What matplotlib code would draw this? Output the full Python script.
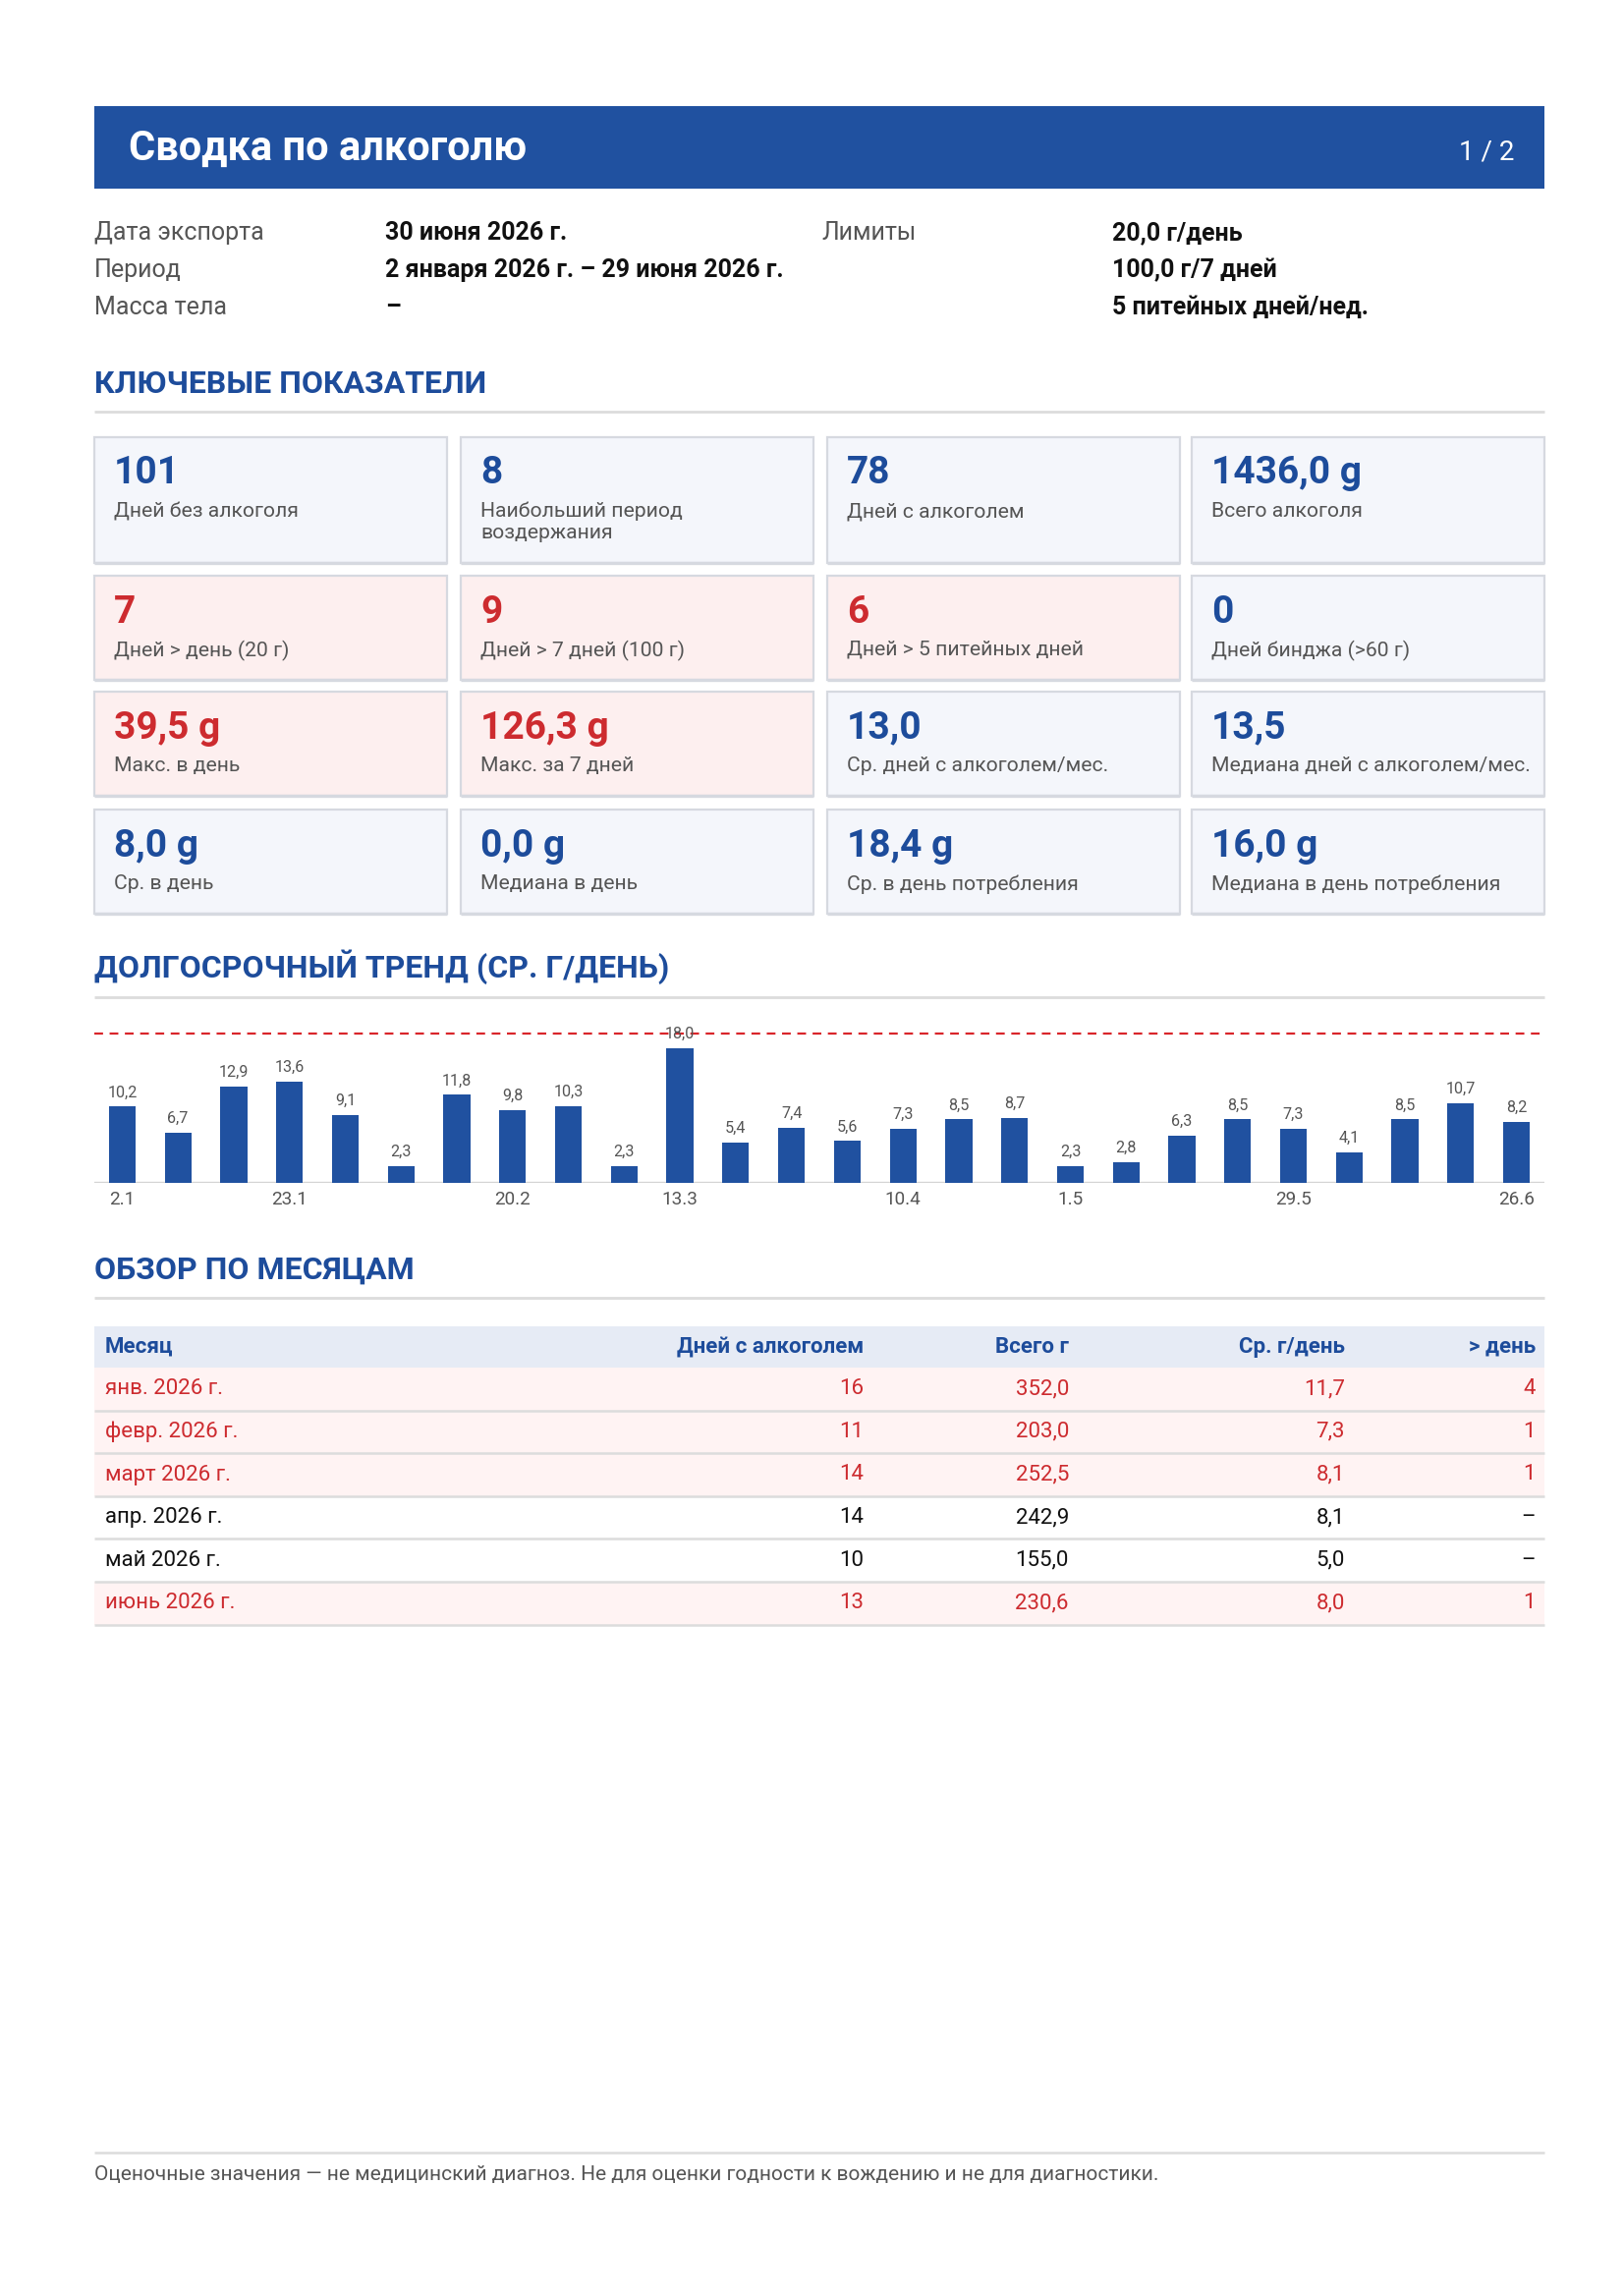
import matplotlib
matplotlib.use("Agg")
import matplotlib.pyplot as plt
from matplotlib.patches import Rectangle

plt.rcParams['font.family'] = ['Roboto', 'DejaVu Sans']

# ---------------- data ----------------
report_title = "Сводка по алкоголю"
page_label = "1 / 2"

info_labels = ["Дата экспорта", "Период", "Масса тела"]
info_values = ["30 июня 2026 г.", "2 января 2026 г. – 29 июня 2026 г.", "–"]
limits_label = "Лимиты"
limits_values = ["20,0 г/день", "100,0 г/7 дней", "5 питейных дней/нед."]

section_titles = ["КЛЮЧЕВЫЕ ПОКАЗАТЕЛИ", "ДОЛГОСРОЧНЫЙ ТРЕНД (СР. Г/ДЕНЬ)", "ОБЗОР ПО МЕСЯЦАМ"]

kpi_values = [
    ["101", "8", "78", "1436,0 g"],
    ["7", "9", "6", "0"],
    ["39,5 g", "126,3 g", "13,0", "13,5"],
    ["8,0 g", "0,0 g", "18,4 g", "16,0 g"],
]
kpi_labels = [
    ["Дней без алкоголя", "Наибольший период\nвоздержания", "Дней с алкоголем", "Всего алкоголя"],
    ["Дней > день (20 г)", "Дней > 7 дней (100 г)", "Дней > 5 питейных дней", "Дней бинджа (>60 г)"],
    ["Макс. в день", "Макс. за 7 дней", "Ср. дней с алкоголем/мес.", "Медиана дней с алкоголем/мес."],
    ["Ср. в день", "Медиана в день", "Ср. в день потребления", "Медиана в день потребления"],
]
kpi_alert = [
    [False, False, False, False],
    [True, True, True, False],
    [True, True, False, False],
    [False, False, False, False],
]

weekly_avg = [10.2, 6.7, 12.9, 13.6, 9.1, 2.3, 11.8, 9.8, 10.3, 2.3, 18.0, 5.4, 7.4,
              5.6, 7.3, 8.5, 8.7, 2.3, 2.8, 6.3, 8.5, 7.3, 4.1, 8.5, 10.7, 8.2]
week_starts = ["2.1", "9.1", "16.1", "23.1", "30.1", "6.2", "13.2", "20.2", "27.2",
               "6.3", "13.3", "20.3", "27.3", "3.4", "10.4", "17.4", "24.4", "1.5",
               "8.5", "15.5", "22.5", "29.5", "5.6", "12.6", "19.6", "26.6"]
week_labels_shown = ["2.1", "23.1", "20.2", "13.3", "10.4", "1.5", "29.5", "26.6"]
daily_limit = 20.0

table_headers = ["Месяц", "Дней с алкоголем", "Всего г", "Ср. г/день", "> день"]
months = ["янв. 2026 г.", "февр. 2026 г.", "март 2026 г.", "апр. 2026 г.", "май 2026 г.", "июнь 2026 г."]
month_drink_days = [16, 11, 14, 14, 10, 13]
month_total_g = [352.0, 203.0, 252.5, 242.9, 155.0, 230.6]
month_avg_g = [11.7, 7.3, 8.1, 8.1, 5.0, 8.0]
month_over_day = [4, 1, 1, 0, 0, 1]

footer_text = "Оценочные значения — не медицинский диагноз. Не для оценки годности к вождению и не для диагностики."

# ---------------- style ----------------
BLUE = "#2051A0"
TXT_BLUE = "#1D4C9B"
RED = "#CD2B2F"
GRAY_TXT = "#555555"
RULE = "#DCDCDC"
CARD_BG = "#F4F6FB"
CARD_ALERT = "#FDEFEF"
CARD_EDGE = "#D6D9E0"

W, H = 1653, 2337
DPI = 200


def fmt(v):
    return f"{v:.1f}".replace(".", ",")


fig = plt.figure(figsize=(W / DPI, H / DPI), dpi=DPI)
fig.patch.set_facecolor("white")
page = fig.add_axes([0, 0, 1, 1])
page.set_xlim(0, W)
page.set_ylim(H, 0)
page.axis("off")

L, R = 96, 1572

# header band
page.add_patch(Rectangle((L, 108), R - L, 84, facecolor=BLUE, edgecolor="none"))
page.text(131, 151, report_title, color="white", fontsize=15, fontweight="bold", va="center")
page.text(1541, 155, page_label, color="white", fontsize=10, va="center", ha="right")

# info block
info_y = [237, 275, 313]
for y, lab, val in zip(info_y, info_labels, info_values):
    page.text(L, y, lab, fontsize=9, color=GRAY_TXT, va="center")
    page.text(392, y, val, fontsize=9, color="#111111", fontweight="bold", va="center")
page.text(836, info_y[0], limits_label, fontsize=9, color=GRAY_TXT, va="center")
for y, val in zip(info_y, limits_values):
    page.text(1132, y, val, fontsize=9, color="#111111", fontweight="bold", va="center")


def section(y_title, y_rule, title):
    page.text(L, y_title, title, fontsize=11.5, fontweight="bold", color=TXT_BLUE, va="center")
    page.plot([L, R], [y_rule, y_rule], color=RULE, lw=1.0, solid_capstyle="butt")


section(391, 419, section_titles[0])

# KPI cards
col_x = [96, 469, 842, 1213]
card_w = 359
row_top = [445, 586, 704, 824]
row_h = [128, 106, 106, 106]
for r in range(4):
    for c in range(4):
        x0, y0 = col_x[c], row_top[r]
        alert = kpi_alert[r][c]
        page.add_patch(Rectangle((x0, y0), card_w, row_h[r],
                                 facecolor=CARD_ALERT if alert else CARD_BG,
                                 edgecolor=CARD_EDGE, lw=0.8))
        page.plot([x0, x0 + card_w], [y0 + row_h[r], y0 + row_h[r]], color=CARD_EDGE, lw=1.2,
                  solid_capstyle="butt")
        page.text(x0 + 20, y0 + 37, kpi_values[r][c], fontsize=14, fontweight="bold",
                  color=RED if alert else TXT_BLUE, va="center")
        page.text(x0 + 20, y0 + 66, kpi_labels[r][c], fontsize=7.6, color=GRAY_TXT,
                  va="top", linespacing=1.2)

section(984, 1015, section_titles[1])

# bar chart
base_y, top_y = 1204, 1040
px_per_unit = (1204 - 1052) / daily_limit
cax = fig.add_axes([L / W, 1 - base_y / H, (R - L) / W, (base_y - top_y) / H])
xs = list(range(len(weekly_avg)))
cax.bar(xs, weekly_avg, width=0.48, color=BLUE, zorder=2)
cax.set_xlim(-0.5, len(weekly_avg) - 0.5)
cax.set_ylim(0, (base_y - top_y) / px_per_unit)
cax.axhline(daily_limit, color="#D9262B", lw=0.8, dashes=(4, 3), zorder=3)
cax.axhline(0, color="#D4D4D4", lw=1.2, zorder=1)
for x, v in zip(xs, weekly_avg):
    cax.annotate(fmt(v), (x, v), xytext=(0, 2.5), textcoords="offset points",
                 ha="center", va="bottom", fontsize=5.8, color="#555555", annotation_clip=False)
tick_pos = [week_starts.index(s) for s in week_labels_shown]
cax.set_xticks(tick_pos)
cax.set_xticklabels(week_labels_shown, fontsize=6.8, color=GRAY_TXT)
cax.tick_params(axis="x", length=0, pad=3)
cax.set_yticks([])
for s in cax.spines.values():
    s.set_visible(False)
cax.patch.set_alpha(0)

section(1293, 1321, section_titles[2])

# table
hdr_top, hdr_h = 1350, 42
row_hh = 43.6
col_right = [None, 879, 1088, 1369, 1563]
page.add_patch(Rectangle((L, hdr_top), R - L, hdr_h, facecolor="#E6EBF5", edgecolor="none"))
hy = hdr_top + hdr_h / 2
page.text(107, hy, table_headers[0], fontsize=8, fontweight="bold", color=TXT_BLUE, va="center")
for j in range(1, 5):
    page.text(col_right[j], hy, table_headers[j], fontsize=8, fontweight="bold", color=TXT_BLUE,
              va="center", ha="right")
for i, m in enumerate(months):
    y0 = hdr_top + hdr_h + i * row_hh
    alert = month_over_day[i] > 0
    if alert:
        page.add_patch(Rectangle((L, y0), R - L, row_hh, facecolor="#FFF3F3", edgecolor="none"))
    page.plot([L, R], [y0 + row_hh, y0 + row_hh], color=RULE, lw=0.9, solid_capstyle="butt")
    cy = y0 + row_hh / 2
    col = RED if alert else "#111111"
    vals = [str(month_drink_days[i]), fmt(month_total_g[i]), fmt(month_avg_g[i]),
            str(month_over_day[i]) if month_over_day[i] > 0 else "–"]
    page.text(107, cy, m, fontsize=8, color=col, va="center")
    for j, v in enumerate(vals, start=1):
        page.text(col_right[j], cy, v, fontsize=8, color=col, va="center", ha="right")

# footer
page.plot([L, R], [2191, 2191], color=RULE, lw=0.9, solid_capstyle="butt")
page.text(L, 2213, footer_text, fontsize=7.5, color=GRAY_TXT, va="center")

fig.savefig("out.png", dpi=DPI, facecolor="white")
